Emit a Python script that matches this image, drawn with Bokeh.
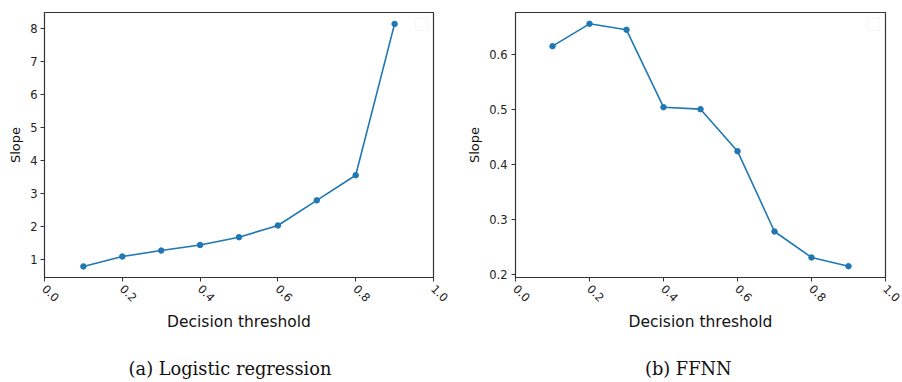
import math
from bokeh.plotting import figure
from bokeh.layouts import row, column
from bokeh.models import Range1d, FixedTicker, BoxAnnotation
from bokeh.core.properties import value
from bokeh.embed import file_html
from bokeh.resources import INLINE

thresholds = [0.1, 0.2, 0.3, 0.4, 0.5, 0.6, 0.7, 0.8, 0.9]
slope_logreg = [0.79, 1.09, 1.27, 1.44, 1.675, 2.03, 2.79, 3.55, 8.13]
slope_ffnn = [0.6157, 0.6564, 0.6455, 0.5046, 0.5010, 0.4245, 0.2783, 0.2310, 0.2151]
x_ticks = [0.0, 0.2, 0.4, 0.6, 0.8, 1.0]
y_ticks_logreg = [1, 2, 3, 4, 5, 6, 7, 8]
y_ticks_ffnn = [0.2, 0.3, 0.4, 0.5, 0.6]
captions = ["(a) Logistic regression", "(b) FFNN"]

BLUE = "#1f77b4"
PANEL_W = 451
PLOT_H = 352
CAP_H = 30


def make_panel(ys, yrange, yticks, border_left, border_right, label_standoff, legend_x):
    p = figure(width=PANEL_W, height=PLOT_H, output_backend="svg", toolbar_location=None,
               x_range=Range1d(0, 1), y_range=Range1d(*yrange),
               min_border_left=border_left, min_border_right=border_right,
               min_border_top=12, min_border_bottom=75)
    p.background_fill_color = "white"
    p.border_fill_color = "white"
    p.outline_line_color = "#333333"
    p.outline_line_width = 1.2
    p.grid.visible = False

    p.line(thresholds, ys, line_color=BLUE, line_width=1.6)
    p.scatter(thresholds, ys, size=5.5, fill_color=BLUE, line_color=BLUE)

    for ax in (p.xaxis[0], p.yaxis[0]):
        ax.axis_line_color = "#333333"
        ax.major_tick_line_color = "#333333"
        ax.major_tick_out = 4
        ax.major_tick_in = 0
        ax.minor_tick_line_color = None
        ax.major_label_text_font = "DejaVu Sans"
        ax.major_label_text_font_size = "11.5px"
        ax.major_label_text_color = "#222222"
        ax.axis_label_text_font = "DejaVu Sans"
        ax.axis_label_text_font_style = "normal"
        ax.axis_label_text_color = "#111111"

    p.xaxis.ticker = FixedTicker(ticks=x_ticks)
    p.xaxis.major_label_overrides = {t: f"{t:.1f}" for t in x_ticks}
    p.xaxis.major_label_orientation = -math.pi / 4
    p.xaxis.major_label_standoff = 5
    p.xaxis.axis_label = "Decision threshold"
    p.xaxis.axis_label_text_font_size = "15.5px"
    p.xaxis.axis_label_standoff = 4

    p.yaxis.ticker = FixedTicker(ticks=yticks)
    p.yaxis.major_label_standoff = label_standoff
    p.yaxis.axis_label = "Slope"
    p.yaxis.axis_label_text_font_size = "13px"
    p.yaxis.axis_label_standoff = 4

    # empty matplotlib-style legend frame in the upper right corner
    yr = yrange[1] - yrange[0]
    p.add_layout(BoxAnnotation(left=legend_x[0], right=legend_x[1],
                               top=yrange[1] - yr * 0.020, bottom=yrange[1] - yr * 0.068,
                               fill_color="white", fill_alpha=1.0,
                               line_color="#dddddd", line_width=1, border_radius=2))
    return p


def make_caption(text, cx):
    c = figure(width=PANEL_W, height=CAP_H, output_backend="svg", toolbar_location=None,
               x_range=Range1d(0, PANEL_W), y_range=Range1d(0, CAP_H),
               x_axis_type=None, y_axis_type=None, min_border=0)
    c.outline_line_color = None
    c.grid.visible = False
    c.text(x=[cx], y=[CAP_H - 15.5], text=[text], text_align="center",
           text_baseline="middle", text_font=value("DejaVu Serif"),
           text_font_size=value("17.8px"), text_color="#111111")
    return c


p1 = make_panel(slope_logreg, (0.455, 8.475), y_ticks_logreg, 44, 18, 3, (0.954, 0.986))
p2 = make_panel(slope_ffnn, (0.1945, 0.677), y_ticks_ffnn, 64, 17, 4, (0.951, 0.985))
c1 = make_caption(captions[0], 229.5)
c2 = make_caption(captions[1], 236.8)

layout = column(row(p1, p2), row(c1, c2))
open("out.html", "w").write(file_html(layout, INLINE))
